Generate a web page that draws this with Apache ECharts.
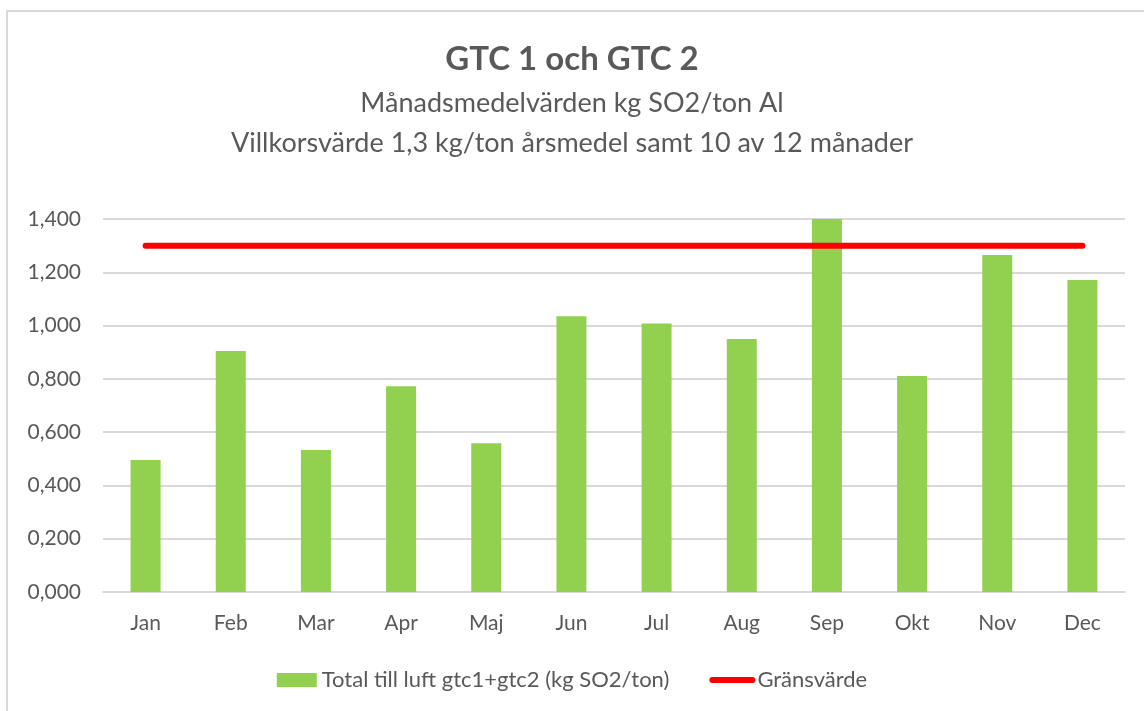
<!DOCTYPE html>
<html>
<head>
<meta charset="utf-8">
<script src="https://cdn.jsdelivr.net/npm/echarts@6/dist/echarts.min.js"></script>
<style>
    html, body { margin: 0; padding: 0; background: #fff; }
    #frame {
        position: absolute; left: 6px; top: 10px; width: 1150px; height: 710px;
        border-left: 2px solid #d9d9d9; border-top: 2px solid #d9d9d9;
    }
    #chart { position: absolute; left: 0; top: 0; width: 1144px; height: 711px; }
</style>
</head>
<body>
<div id="frame"></div>
<div id="chart"></div>
<script>
const months = ['Jan', 'Feb', 'Mar', 'Apr', 'Maj', 'Jun', 'Jul', 'Aug', 'Sep', 'Okt', 'Nov', 'Dec']
const totalLuft = [0.495, 0.905, 0.533, 0.772, 0.558, 1.035, 1.008, 0.950, 1.400, 0.811, 1.265, 1.171]
const gransvarde = [1.3, 1.3, 1.3, 1.3, 1.3, 1.3, 1.3, 1.3, 1.3, 1.3, 1.3, 1.3]

const font = 'Lato, "Open Sans", sans-serif'
const grey = '#595959'

const chart = echarts.init(document.getElementById('chart'))
chart.setOption({
    animation: false,
    textStyle: { fontFamily: font },
    title: [
        {
            text: 'GTC 1 och GTC 2',
            left: 'center',
            top: 38,
            textStyle: { fontSize: 33, fontWeight: 'bold', color: grey, fontFamily: font }
        },
        {
            text: 'Månadsmedelvärden kg SO2/ton Al\nVillkorsvärde 1,3 kg/ton årsmedel samt 10 av 12 månader',
            left: 'center',
            top: 78,
            textStyle: { fontSize: 27, fontWeight: 'normal', color: grey, lineHeight: 40, fontFamily: font }
        }
    ],
    legend: {
        bottom: 15,
        left: 'center',
        itemGap: 40,
        itemWidth: 40,
        itemHeight: 14,
        textStyle: { fontSize: 22, color: grey, fontFamily: font },
        data: [
            { name: 'Total till luft gtc1+gtc2 (kg SO2/ton)', icon: 'rect' },
            { name: 'Gränsvärde', itemStyle: { opacity: 0 }, lineStyle: { width: 6, cap: 'round' } }
        ]
    },
    grid: { left: 103, right: 19, top: 219, bottom: 119 },
    xAxis: {
        type: 'category',
        data: months,
        axisLine: { lineStyle: { color: '#d9d9d9', width: 2 } },
        axisTick: { show: false },
        axisLabel: { fontSize: 21, color: grey, margin: 21 }
    },
    yAxis: {
        type: 'value',
        min: 0,
        max: 1.4,
        interval: 0.2,
        axisLine: { show: false },
        axisTick: { show: false },
        splitLine: { lineStyle: { color: '#d9d9d9', width: 2 } },
        axisLabel: {
            fontSize: 21,
            color: grey,
            margin: 22,
            formatter: v => v.toFixed(3).replace('.', ',')
        }
    },
    series: [
        {
            name: 'Total till luft gtc1+gtc2 (kg SO2/ton)',
            type: 'bar',
            data: totalLuft,
            barWidth: 30,
            itemStyle: { color: '#92d050' }
        },
        {
            name: 'Gränsvärde',
            type: 'line',
            data: gransvarde,
            symbol: 'none',
            lineStyle: { color: '#ff0000', width: 6, cap: 'round' },
            itemStyle: { color: '#ff0000' }
        }
    ]
})
</script>
</body>
</html>
